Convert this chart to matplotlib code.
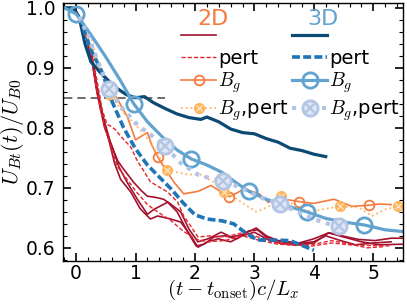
import numpy as np
import matplotlib
matplotlib.use("Agg")
import matplotlib.pyplot as plt
from matplotlib.ticker import MultipleLocator

plt.rcParams['mathtext.fontset'] = 'cm'
plt.rcParams['font.family'] = ['DejaVu Sans']

# ---------------- data ----------------
# 2D, no guide field (three runs)
x2d_a = [0.0,0.15,0.27,0.35,0.45,0.58,0.7,0.8,0.97,1.1,1.2,1.34,1.47,1.59,1.76,1.9,2.05,2.22,2.44,2.61,2.8,3.03,3.2,3.4,3.75,4.0,4.25,4.47,4.75,5.03,5.3,5.5]
y2d_a = [0.995,0.96,0.91,0.86,0.82,0.775,0.745,0.731,0.709,0.695,0.686,0.684,0.681,0.673,0.66,0.631,0.61,0.615,0.626,0.618,0.622,0.633,0.62,0.612,0.608,0.615,0.625,0.62,0.614,0.612,0.616,0.616]
x2d_b = [0.0,0.15,0.28,0.37,0.48,0.6,0.72,0.86,1.03,1.2,1.31,1.54,1.7,1.88,2.02,2.15,2.32,2.5,2.7,2.9,3.05,3.2,3.45,3.7,4.0,4.2,4.45,4.7,5.0,5.3]
y2d_b = [0.995,0.962,0.905,0.85,0.8,0.77,0.735,0.709,0.681,0.656,0.664,0.676,0.66,0.626,0.603,0.606,0.618,0.62,0.615,0.628,0.63,0.618,0.61,0.607,0.61,0.62,0.612,0.605,0.608,0.61]
x2d_c = [0.0,0.15,0.27,0.35,0.45,0.55,0.65,0.75,0.92,1.08,1.25,1.37,1.59,1.76,1.93,2.05,2.22,2.39,2.6,2.8,3.0,3.2,3.45,3.7,4.0,4.25,4.5,4.8,5.1,5.5]
y2d_c = [0.995,0.96,0.92,0.87,0.82,0.78,0.74,0.714,0.693,0.665,0.648,0.653,0.648,0.643,0.62,0.601,0.61,0.615,0.61,0.62,0.626,0.615,0.607,0.605,0.608,0.625,0.618,0.61,0.605,0.606]

# 2D, perturbed (two runs)
x2d_p1 = [0.0,0.2,0.35,0.44,0.52,0.58,0.66,0.75,0.92,1.03,1.14,1.25,1.54,1.71,1.81,1.93,2.05,2.27,2.5,2.8,3.0,3.3,3.6,3.97,4.3,4.6,4.9,5.27]
y2d_p1 = [0.995,0.95,0.88,0.83,0.806,0.803,0.797,0.786,0.768,0.745,0.728,0.71,0.693,0.676,0.653,0.636,0.618,0.62,0.618,0.625,0.62,0.61,0.605,0.603,0.608,0.605,0.604,0.603]
x2d_p2 = [0.0,0.2,0.35,0.41,0.5,0.58,0.69,0.85,1.0,1.2,1.4,1.6,1.8,2.0,2.2,2.5,2.8,3.1,3.4,3.7,4.0,4.3,4.6,4.9,5.2]
y2d_p2 = [0.995,0.95,0.864,0.83,0.795,0.77,0.736,0.715,0.695,0.672,0.658,0.645,0.628,0.615,0.61,0.612,0.62,0.612,0.606,0.604,0.606,0.612,0.606,0.6,0.602]

# 2D, guide field
x2d_bg = [0.1,0.27,0.52,0.7,0.86,1.0,1.1,1.2,1.28,1.37,1.47,1.65,1.81,2.05,2.27,2.44,2.58,2.83,3.08,3.23,3.5,3.75,4.0,4.34,4.64,4.93,5.1,5.3]
y2d_bg = [0.975,0.925,0.875,0.847,0.819,0.78,0.786,0.792,0.77,0.752,0.736,0.709,0.69,0.694,0.704,0.693,0.685,0.698,0.69,0.676,0.681,0.677,0.674,0.681,0.669,0.671,0.673,0.672]
mk2d_bg = [9, 16, 21, 25]

# 2D, guide field, perturbed
x2d_bgp = [0.1,0.24,0.37,0.57,0.8,1.08,1.25,1.42,1.53,1.65,1.88,2.1,2.32,2.49,2.65,2.78,3.03,3.23,3.44,3.6,3.75,3.97,4.2,4.44,4.76,4.98,5.2,5.41]
y2d_bgp = [0.975,0.955,0.905,0.855,0.825,0.797,0.776,0.748,0.73,0.727,0.722,0.722,0.709,0.693,0.685,0.676,0.66,0.668,0.686,0.676,0.664,0.661,0.665,0.669,0.667,0.653,0.664,0.669]
mk2d_bgp = [3, 8, 13, 18, 23, 27]

# 3D
x3d = [-0.2,-0.05,0.05,0.15,0.25,0.4,0.55,0.7,0.85,1.0,1.15,1.3,1.5,1.7,1.9,2.1,2.2,2.4,2.6,2.8,3.0,3.2,3.4,3.6,3.8,4.0,4.2]
y3d = [1.0,1.0,0.985,0.94,0.91,0.893,0.878,0.865,0.855,0.85,0.852,0.842,0.832,0.823,0.817,0.814,0.818,0.81,0.798,0.792,0.79,0.782,0.776,0.766,0.762,0.756,0.752]

# 3D, perturbed
x3d_p = [0.05,0.25,0.45,0.6,0.8,1.0,1.2,1.4,1.6,1.8,2.0,2.2,2.45,2.65,2.85,3.05,3.3,3.6,3.8,4.0]
y3d_p = [0.985,0.93,0.89,0.845,0.8,0.765,0.738,0.718,0.698,0.675,0.655,0.648,0.645,0.64,0.625,0.613,0.613,0.612,0.604,0.596]

# 3D, guide field
x3d_bg = [-0.2,0.0,0.25,0.5,0.75,0.97,1.2,1.45,1.7,1.94,2.2,2.45,2.7,2.91,3.2,3.5,3.88,4.2,4.5,4.85,5.2,5.5]
y3d_bg = [1.0,0.99,0.955,0.918,0.878,0.84,0.81,0.785,0.763,0.748,0.738,0.726,0.708,0.694,0.681,0.671,0.66,0.649,0.643,0.638,0.63,0.627]
mk3d_bg = [1, 5, 9, 13, 16, 19]

# 3D, guide field, perturbed
x3d_bgp = [0.05,0.2,0.35,0.55,0.8,1.05,1.25,1.5,1.75,2.05,2.25,2.47,2.7,2.9,3.1,3.43,3.7,4.0,4.2,4.42]
y3d_bgp = [0.985,0.955,0.915,0.864,0.83,0.803,0.789,0.769,0.742,0.722,0.716,0.711,0.703,0.694,0.684,0.673,0.661,0.648,0.641,0.636]
mk3d_bgp = [3, 7, 11, 15, 19]

ref_level = 0.85
ref_x = [-0.2, 1.5]

# ---------------- styles ----------------
c2d = "#a3122f"
c2d_p = "#e3262f"
c2d_bg = "#f57a3d"
c2d_bgp = "#fdb45c"
c3d = "#0b4a73"
c3d_p = "#1f75b6"
c3d_bg = "#62a3cf"
c3d_bgp = "#b3c5e5"

fig = plt.figure(figsize=(4.07, 3.05), dpi=100)
ax = fig.add_axes([63/407, 44/305, 340/407, 258/305])

ax.plot(ref_x, [ref_level, ref_level], color="#555555", lw=1.2, ls=(0, (5, 3)), zorder=1)

h2d, = ax.plot(x2d_a, y2d_a, color=c2d, lw=1.2)
ax.plot(x2d_b, y2d_b, color=c2d, lw=1.2)
ax.plot(x2d_c, y2d_c, color=c2d, lw=1.2)
h2d_p, = ax.plot(x2d_p1, y2d_p1, color=c2d_p, lw=1.0, ls=(0, (3, 1.5)))
ax.plot(x2d_p2, y2d_p2, color=c2d_p, lw=1.0, ls=(0, (3, 1.5)))

h2d_bg, = ax.plot(x2d_bg, y2d_bg, color=c2d_bg, lw=1.2, marker='o', ms=7,
                  mfc='none', mec=c2d_bg, mew=1.3, markevery=mk2d_bg)
h2d_bgp, = ax.plot(x2d_bgp, y2d_bgp, color=c2d_bgp, lw=1.3, ls=':', marker='o', ms=7,
                   mfc=c2d_bgp, mec=c2d_bgp, mew=1.0, markevery=mk2d_bgp)
h2d_bgpx, = ax.plot(np.array(x2d_bgp)[mk2d_bgp], np.array(y2d_bgp)[mk2d_bgp], ls='none',
                    marker='x', ms=4.5, mec='#fde2b8', mew=1.0)

h3d, = ax.plot(x3d, y3d, color=c3d, lw=2.3)
h3d_p, = ax.plot(x3d_p, y3d_p, color=c3d_p, lw=2.6, ls=(0, (2.2, 0.9)))
h3d_bg, = ax.plot(x3d_bg, y3d_bg, color=c3d_bg, lw=2.3, marker='o', ms=11,
                  mfc='none', mec=c3d_bg, mew=2.0, markevery=mk3d_bg)
h3d_bgp, = ax.plot(x3d_bgp, y3d_bgp, color=c3d_bgp, lw=3.0, ls=(0, (1, 1.4)), marker='o', ms=11,
                   mfc='#dfe6f3', mec=c3d_bgp, mew=2.0, markevery=mk3d_bgp)
h3d_bgpx, = ax.plot(np.array(x3d_bgp)[mk3d_bgp], np.array(y3d_bgp)[mk3d_bgp], ls='none',
                    marker='x', ms=7, mec=c3d_bgp, mew=1.6)

ax.set_xlim(-0.22, 5.5)
ax.set_ylim(0.578, 1.008)
ax.xaxis.set_major_locator(MultipleLocator(1))
ax.xaxis.set_minor_locator(MultipleLocator(0.2))
ax.yaxis.set_major_locator(MultipleLocator(0.1))
ax.yaxis.set_minor_locator(MultipleLocator(0.02))
ax.tick_params(which='both', direction='in', top=True, right=True, labelsize=13.5)
ax.tick_params(axis='y', pad=5.5)
ax.tick_params(axis='x', pad=2.5)
ax.tick_params(which='major', length=6, width=1.2)
ax.tick_params(which='minor', length=3, width=0.8)
for s in ax.spines.values():
    s.set_linewidth(1.0)

ax.set_xlabel(r'$(t-t_{\rm onset})c/L_x$', fontsize=15, labelpad=-4)
ax.set_ylabel(r'$U_{Bt}(t)/U_{B0}$', fontsize=16, labelpad=0)

handles = [h2d, h2d_p, h2d_bg, (h2d_bgp, h2d_bgpx), h3d, h3d_p, h3d_bg, (h3d_bgp, h3d_bgpx)]
labels = ['', 'pert', r'$B_g$', r'$B_g$,pert', '', 'pert', r'$B_g$', r'$B_g$,pert']
leg = ax.legend(handles, labels, ncol=2, frameon=False, fontsize=14,
                loc='upper left', bbox_to_anchor=(181/407, 1 - 27/305),
                bbox_transform=fig.transFigure, borderpad=0, borderaxespad=0,
                handlelength=1.8, handletextpad=0.1, columnspacing=0.2,
                labelspacing=0.15)
fig.text(213/407, 1 - 19/305, '2D', color=c2d_bg, fontsize=16, ha='center', va='center')
fig.text(323/407, 1 - 19/305, '3D', color=c3d_bg, fontsize=16, ha='center', va='center')

fig.savefig('out.png', dpi=100)
